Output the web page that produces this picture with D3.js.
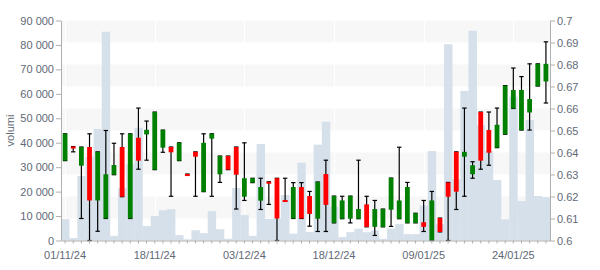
<!DOCTYPE html>
<html>
<head>
<meta charset="utf-8">
<script src="https://cdn.jsdelivr.net/npm/d3@7"></script>
<style>
	body { margin: 0; background: #fff; }
	text { font-family: "Liberation Sans", Arial, sans-serif; font-size: 11px; fill: #5f6976; }
</style>
</head>
<body>
<div id="chart"></div>
<script>
/* data */

var dates = ["01/11/24","04/11/24","05/11/24","06/11/24","07/11/24","08/11/24","11/11/24","12/11/24","13/11/24","14/11/24",
	"15/11/24","18/11/24","19/11/24","20/11/24","21/11/24","22/11/24","25/11/24","26/11/24","27/11/24","28/11/24",
	"29/11/24","02/12/24","03/12/24","04/12/24","05/12/24","06/12/24","09/12/24","10/12/24","11/12/24","12/12/24",
	"13/12/24","16/12/24","17/12/24","18/12/24","19/12/24","20/12/24","23/12/24","27/12/24","30/12/24","02/01/25",
	"03/01/25","06/01/25","07/01/25","08/01/25","09/01/25","10/01/25","13/01/25","14/01/25","15/01/25","16/01/25",
	"17/01/25","20/01/25","21/01/25","22/01/25","23/01/25","24/01/25","27/01/25","28/01/25","29/01/25","30/01/25"];

var open = [0.6363,0.6427,0.6340,0.6425,0.6182,0.6100,0.6299,0.6425,0.6100,0.6467,
	0.6482,0.6322,0.6422,0.6425,0.6363,0.6302,0.6403,0.6222,0.6463,0.6301,
	0.6384,0.6425,0.6199,0.6263,0.6181,0.6267,0.6283,0.6184,0.6100,0.6243,
	0.6202,0.6099,0.6302,0.6080,0.6099,0.6099,0.6099,0.6164,0.6062,0.6062,
	0.6140,0.6099,0.6080,0.6080,0.6083,0.6000,0.6102,0.6264,0.6403,0.6381,
	0.6301,0.6584,0.6502,0.6422,0.6483,0.6600,0.6502,0.6582,0.6702,0.6723];

var close = [0.6485,0.6418,0.6425,0.6182,0.6403,0.6301,0.6343,0.6199,0.6485,0.6363,
	0.6503,0.6584,0.6502,0.6401,0.6444,0.6300,0.6381,0.6444,0.6485,0.6384,
	0.6322,0.6299,0.6283,0.6283,0.6243,0.6260,0.6100,0.6179,0.6243,0.6100,
	0.6121,0.6266,0.6162,0.6202,0.6182,0.6202,0.6143,0.6062,0.6143,0.6143,
	0.6284,0.6182,0.6243,0.6124,0.6062,0.6182,0.6039,0.6199,0.6222,0.6403,
	0.6342,0.6363,0.6399,0.6526,0.6704,0.6684,0.6684,0.6643,0.6803,0.6803];

var high = [0.6485,0.6427,0.6425,0.6485,0.6403,0.6500,0.6442,0.6485,0.6485,0.6602,
	0.6543,0.6584,0.6502,0.6425,0.6444,0.6302,0.6403,0.6485,0.6485,0.6384,
	0.6384,0.6425,0.6444,0.6283,0.6283,0.6267,0.6283,0.6283,0.6263,0.6263,
	0.6223,0.6266,0.6365,0.6202,0.6201,0.6202,0.6365,0.6201,0.6182,0.6143,
	0.6284,0.6424,0.6264,0.6124,0.6182,0.6223,0.6102,0.6264,0.6403,0.6602,
	0.6358,0.6584,0.6584,0.6602,0.6704,0.6784,0.6745,0.6803,0.6803,0.6903];

var low = [0.6363,0.6403,0.6100,0.6000,0.6042,0.6100,0.6299,0.6199,0.6100,0.6324,
	0.6365,0.6322,0.6401,0.6201,0.6363,0.6300,0.6201,0.6222,0.6201,0.6264,
	0.6322,0.6143,0.6182,0.6263,0.6141,0.6164,0.6000,0.6179,0.6100,0.6100,
	0.6065,0.6041,0.6041,0.6080,0.6099,0.6080,0.6099,0.6062,0.6023,0.6062,
	0.6064,0.6099,0.6080,0.6080,0.6041,0.6000,0.6039,0.6000,0.6141,0.6201,
	0.6283,0.6324,0.6342,0.6422,0.6483,0.6600,0.6502,0.6502,0.6702,0.6625];

var volume = [8700,1000,26400,34200,45600,85400,1900,21400,31100,46100,
	5900,10000,12400,12800,2200,500,4200,3000,12000,4600,
	700,21500,10400,1900,39500,8800,9000,18600,2800,31800,
	3500,39200,48600,13800,1400,3400,4800,3400,4100,700,
	4900,6700,2600,2600,14300,36600,6700,80300,25100,61200,
	85800,47200,36600,24700,8700,58900,16100,49300,18200,17700];

var volumeTicks = [0,10000,20000,30000,40000,50000,60000,70000,80000,90000];
var priceTicks = [0.6,0.61,0.62,0.63,0.64,0.65,0.66,0.67,0.68,0.69,0.7];
var labelEvery = 11;

/* chart */

var W = 600, H = 270;
var plotL = 61, plotR = 550, plotT = 20.5, plotB = 240.5;

var svg = d3.select("#chart").append("svg")
	.attr("width", W)
	.attr("height", H);

var x = d3.scaleBand()
	.domain(d3.range(dates.length))
	.range([plotL, plotR])
	.padding(0);

var yVol = d3.scaleLinear().domain([0, 90000]).range([plotB, plotT]);
var yPx = d3.scaleLinear().domain([0.6, 0.7]).range([plotB, plotT]);

// alternating bands, every other 0.01 starting from the top
var bands = d3.range(0, priceTicks.length - 1, 2).map(function(i){
	return [priceTicks[priceTicks.length - 1 - i], priceTicks[priceTicks.length - 2 - i]];
});
svg.append("g").selectAll("rect")
	.data(bands)
	.enter()
	.append("rect")
	.attr("x", plotL)
	.attr("width", plotR - plotL)
	.attr("y", function(d){ return yPx(d[0]); })
	.attr("height", function(d){ return yPx(d[1]) - yPx(d[0]); })
	.attr("fill", "#f7f7f7");

// faint vertical lines at the labelled dates
var labelled = d3.range(0, dates.length, labelEvery);
svg.append("g").selectAll("line")
	.data(labelled)
	.enter()
	.append("line")
	.attr("x1", function(d){ return Math.round(x(d) + x.bandwidth() / 2) + 0.5; })
	.attr("x2", function(d){ return Math.round(x(d) + x.bandwidth() / 2) + 0.5; })
	.attr("y1", plotT)
	.attr("y2", plotB)
	.attr("stroke", "#ffffff");

// volume bars
svg.append("g").selectAll("rect")
	.data(volume)
	.enter()
	.append("rect")
	.attr("x", function(d, i){ return x(i); })
	.attr("width", x.bandwidth() + 0.3)
	.attr("y", function(d){ return yVol(d); })
	.attr("height", function(d){ return plotB - yVol(d); })
	.attr("fill", "#d6e0ea");

// candles
var candles = svg.append("g").selectAll("g")
	.data(dates.map(function(d, i){ return i; }))
	.enter()
	.append("g")
	.attr("transform", function(i){ return "translate(" + (x(i) + x.bandwidth() / 2) + ",0)"; });

var capW = 2.2;
candles.append("line")
	.attr("y1", function(i){ return yPx(high[i]); })
	.attr("y2", function(i){ return yPx(low[i]); })
	.attr("stroke", "#000")
	.attr("stroke-width", 1.2);
candles.append("line")
	.attr("x1", -capW).attr("x2", capW)
	.attr("y1", function(i){ return yPx(high[i]); })
	.attr("y2", function(i){ return yPx(high[i]); })
	.attr("stroke", "#000")
	.attr("stroke-width", 1.2);
candles.append("line")
	.attr("x1", -capW).attr("x2", capW)
	.attr("y1", function(i){ return yPx(low[i]); })
	.attr("y2", function(i){ return yPx(low[i]); })
	.attr("stroke", "#000")
	.attr("stroke-width", 1.2);

var bodyW = 4.8;
candles.append("rect")
	.attr("x", -bodyW / 2)
	.attr("width", bodyW)
	.attr("y", function(i){ return yPx(Math.max(open[i], close[i])); })
	.attr("height", function(i){ return Math.max(2, Math.abs(yPx(open[i]) - yPx(close[i]))); })
	.attr("fill", function(i){ return close[i] >= open[i] ? "#008000" : "#ff0000"; });

// axes
var fmtVol = function(d){ return d3.format(",")(d).replace(/,/g, " "); };

var gl = svg.append("g")
	.attr("transform", "translate(" + plotL + ",0)")
	.call(d3.axisLeft(yVol).tickValues(volumeTicks).tickFormat(fmtVol).tickSize(5).tickSizeOuter(0).tickPadding(2));

var gr = svg.append("g")
	.attr("transform", "translate(" + plotR + ",0)")
	.call(d3.axisRight(yPx).tickValues(priceTicks).tickFormat(function(d){ return String(+d.toFixed(2)); }).tickSize(5).tickSizeOuter(0).tickPadding(2));

var gb = svg.append("g")
	.attr("transform", "translate(0," + plotB + ")")
	.call(d3.axisBottom(x).tickSize(3).tickSizeOuter(0).tickPadding(8)
		.tickFormat(function(i){ return i % labelEvery == 0 ? dates[i] : ""; }));

[gl, gr, gb].forEach(function(g){
	g.selectAll("path").attr("stroke", "#b0b0b0");
	g.selectAll("line").attr("stroke", "#b0b0b0");
	g.selectAll("text").attr("fill", "#5f6976").style("font-size", "11px");
});
gb.selectAll(".tick").filter(function(i){ return i % labelEvery != 0; }).select("text").remove();

svg.append("text")
	.attr("transform", "translate(14," + ((plotT + plotB) / 2) + ") rotate(-90)")
	.attr("text-anchor", "middle")
	.text("volumi");
</script>
</body>
</html>
